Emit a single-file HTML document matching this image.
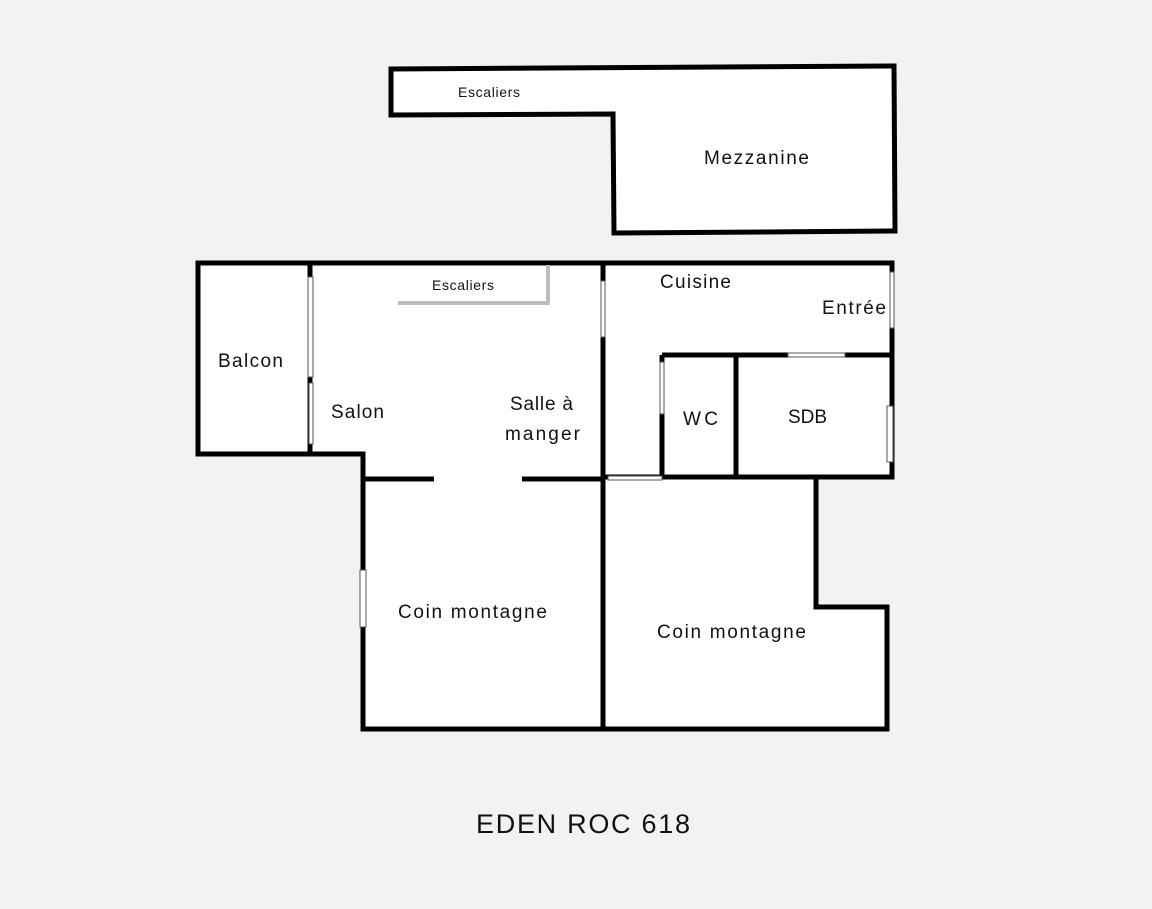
<!DOCTYPE html>
<html><head><style>
html,body{margin:0;padding:0;background:#f3f2f0;}
svg{display:block}
text{font-family:"Liberation Sans",sans-serif;fill:#111}
</style></head><body>
<svg width="1152" height="909" viewBox="0 0 1152 909">
<rect width="1152" height="909" fill="#f3f2f0"/>
<polygon points="391,69 894,66 895,231 614,233 613,114 391,115" fill="#fff" stroke="#000" stroke-width="5"/>
<text x="458" y="97" font-size="14" textLength="62">Escaliers</text>
<text x="704" y="164" font-size="19" textLength="105">Mezzanine</text>
<polygon points="198,263 892,263 892,477 816,477 816,607 887,607 887,729 363,729 363,454 198,454" fill="#fff" stroke="#000" stroke-width="5"/>
<g stroke="#000" stroke-width="5" fill="none">
<line x1="310" y1="263" x2="310" y2="454"/>
<line x1="603" y1="263" x2="603" y2="729"/>
<line x1="363" y1="479" x2="434" y2="479"/>
<line x1="522" y1="479" x2="603" y2="479"/>
<line x1="603" y1="477" x2="892" y2="477"/>
<line x1="662" y1="355" x2="892" y2="355"/>
<line x1="662" y1="355" x2="662" y2="477"/>
<line x1="736" y1="355" x2="736" y2="477"/>
</g>
<polyline points="398,303 548,303 548,265" fill="none" stroke="#bdbdbd" stroke-width="4"/>
<g fill="#fff" stroke="#555" stroke-width="1">
<rect x="308" y="277" width="5" height="100"/>
<rect x="309" y="383" width="4" height="61"/>
<rect x="601" y="281" width="4" height="56"/>
<rect x="890" y="272" width="4" height="56"/>
<rect x="660" y="362" width="4" height="52"/>
<rect x="788" y="353" width="57" height="4"/>
<rect x="887" y="406" width="6" height="56"/>
<rect x="608" y="476" width="54" height="4"/>
<rect x="360" y="570" width="6" height="57"/>
</g>
<g font-size="19">
<text x="432" y="290" font-size="14" textLength="62">Escaliers</text>
<text x="218" y="367" textLength="65">Balcon</text>
<text x="331" y="418" textLength="53">Salon</text>
<text x="510" y="410" textLength="63">Salle à</text>
<text x="505" y="440" textLength="75">manger</text>
<text x="660" y="288" textLength="71">Cuisine</text>
<text x="822" y="314" textLength="64">Entrée</text>
<text x="683" y="425" textLength="35">WC</text>
<text x="788" y="423" textLength="39">SDB</text>
<text x="398" y="618" textLength="149">Coin montagne</text>
<text x="657" y="638" textLength="149">Coin montagne</text>
</g>
<text x="476" y="833" font-size="27" textLength="214">EDEN ROC 618</text>
</svg>
</body></html>
